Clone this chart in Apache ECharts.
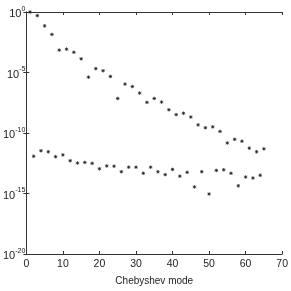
<!DOCTYPE html>
<html>
<head>
<meta charset="utf-8">
<script src="https://cdn.jsdelivr.net/npm/echarts@6/dist/echarts.min.js"></script>
<style>html,body{margin:0;padding:0;background:#fff;}#c{width:291px;height:291px;}</style>
</head>
<body>
<div id="c"></div>
<script>
// odd Chebyshev modes (upper series)
var upperX = [1,3,5,7,9,11,13,15,17,19,21,23,25,27,29,31,33,35,37,39,41,43,45,47,49,51,53,55,57,59,61,63,65];
var upperY = [1,0.5,7.1e-2,1.4e-2,7.1e-4,8.5e-4,4.7e-4,1.35e-4,4.1e-6,2.1e-5,1.4e-5,4.7e-6,7.1e-8,1.1e-6,6.9e-7,2.0e-7,3.4e-8,7.1e-8,3.6e-8,8.3e-9,3.3e-9,4.3e-9,2.1e-9,4.7e-10,2.7e-10,3.2e-10,1.35e-10,1.5e-11,3.0e-11,2.1e-11,5.6e-12,2.8e-12,4.9e-12];
// even Chebyshev modes (lower series)
var lowerX = [2,4,6,8,10,12,14,16,18,20,22,24,26,28,30,32,34,36,38,40,42,44,46,48,50,52,54,56,58,60,62,64];
var lowerY = [1.2e-12,3.4e-12,2.8e-12,1.1e-12,1.55e-12,5.1e-13,3.3e-13,3.7e-13,3.1e-13,1.1e-13,1.9e-13,1.8e-13,6.3e-14,1.5e-13,1.5e-13,4.7e-14,1.5e-13,6.3e-14,3.6e-14,9.8e-14,2.7e-14,5.6e-14,3.5e-15,6.3e-14,9.1e-16,8.1e-14,9.1e-14,4.7e-14,4.3e-15,2.3e-14,1.9e-14,3.2e-14];
var xTicks = [0,10,20,30,40,50,60,70];
var yTickExponents = [0,-5,-10,-15,-20];
var xLabel = 'Chebyshev mode';

function pairs(xs, ys){ return xs.map(function(x,i){return [x, ys[i]];}); }

var star = 'path://M0,-5L0,5M-5,0L5,0M-3.5,-3.5L3.5,3.5M-3.5,3.5L3.5,-3.5';
var font = '"Liberation Sans", Arial, sans-serif';
var axisColor = '#333';

var chart = echarts.init(document.getElementById('c'), null, {renderer:'canvas'});
var common = {
  axisLine:{show:true, lineStyle:{color:axisColor, width:1}},
  axisTick:{show:true, inside:true, length:3, lineStyle:{color:axisColor}},
  splitLine:{show:false}
};
chart.setOption({
  animation:false,
  backgroundColor:'#fff',
  grid:{left:22, right:8, top:12, bottom:29, containLabel:false},
  xAxis:[
    Object.assign({type:'value', min:xTicks[0], max:xTicks[xTicks.length-1], interval:10, position:'bottom',
      name:xLabel, nameLocation:'middle', nameGap:22,
      nameTextStyle:{fontFamily:font, fontSize:10, color:'#222'},
      axisLabel:{fontFamily:font, fontSize:10.5, color:'#222', margin:5}}, common),
    Object.assign({type:'value', min:xTicks[0], max:xTicks[xTicks.length-1], interval:10, position:'top',
      axisLabel:{show:false}}, common)
  ],
  yAxis:[
    Object.assign({type:'log', logBase:10, min:Math.pow(10,yTickExponents[4]), max:Math.pow(10,yTickExponents[0]), interval:5, position:'left',
      axisLabel:{margin:1, formatter:function(v){ var e=Math.round(Math.log10(v)); return '{b|10}{s|'+e+'}'; },
        rich:{b:{fontFamily:font, fontSize:11, color:'#222', padding:[4,0,0,0]}, s:{fontFamily:font, fontSize:7, color:'#222', padding:[0,0,6,0]}}}}, common),
    Object.assign({type:'log', logBase:10, min:Math.pow(10,yTickExponents[4]), max:Math.pow(10,yTickExponents[0]), interval:5, position:'right',
      axisLabel:{show:false}}, common)
  ],
  series:[
    {type:'scatter', data:pairs(upperX, upperY), symbol:star, symbolSize:3.5, xAxisIndex:0, yAxisIndex:0,
      itemStyle:{color:'none', borderColor:'#222', borderWidth:1}},
    {type:'scatter', data:pairs(lowerX, lowerY), symbol:star, symbolSize:3.5, xAxisIndex:0, yAxisIndex:0,
      itemStyle:{color:'none', borderColor:'#222', borderWidth:1}}
  ]
});
</script>
</body>
</html>
